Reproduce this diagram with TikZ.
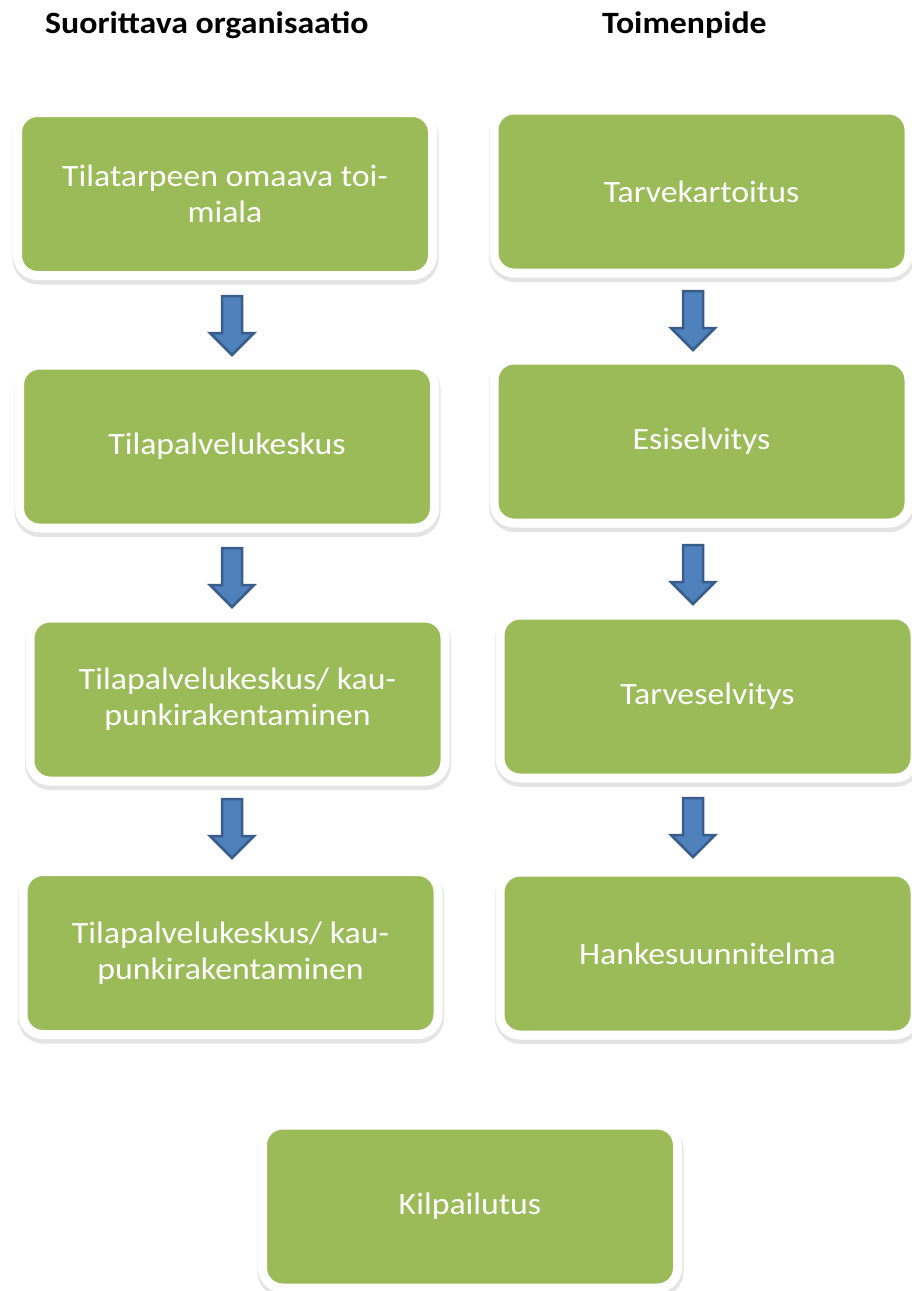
\documentclass[tikz,border=0pt]{standalone}
\usepackage{fontspec}
\setmainfont[FakeStretch=1.09]{Carlito}
\definecolor{boxgreen}{HTML}{9BBB59}
\definecolor{arrowblue}{HTML}{4F81BD}
\definecolor{arrowedge}{HTML}{385D8A}
\begin{document}
\begin{tikzpicture}[x=1pt,y=-1pt,
  greenbox/.style={fill=boxgreen, draw=white, line width=9pt, rounded corners=20pt,
    minimum width=415pt, minimum height=163pt, inner sep=0pt, text=white,
    font=\fontsize{31}{36}\selectfont, align=center,
    preaction={draw=black!30, fill=black!30, line width=11pt, opacity=0.35,
      transform canvas={xshift=0.5pt,yshift=-3.5pt}}},
  header/.style={font=\bfseries\fontsize{31}{36}\selectfont, text=black, inner sep=0pt},
  arrowstyle/.style={fill=arrowblue, draw=arrowedge, line width=2.5pt, line join=miter},
  blockarrow/.pic={\draw[arrowstyle] (-10,0) -- (10,0) -- (10,37) -- (22,37) -- (0,59) -- (-22,37) -- (-10,37) -- cycle;}
]
\useasboundingbox[fill=white] (0,0) rectangle (912,1291);

\node[header, anchor=base west] (h1) at (45,33) {Suorittava organisaatio};
\node[header, anchor=base west] (h2) at (602,33) {Toimenpide};

\node[greenbox] (L1) at (225,194) {Tilatarpeen omaava toi-\\miala};
\node[greenbox] (L2) at (227,446.5) {Tilapalvelukeskus};
\node[greenbox] (L3) at (237.5,699.5) {Tilapalvelukeskus/ kau-\\punkirakentaminen};
\node[greenbox] (L4) at (230.5,953) {Tilapalvelukeskus/ kau-\\punkirakentaminen};

\node[greenbox] (R1) at (701.5,191.5) {Tarvekartoitus};
\node[greenbox] (R2) at (701.5,441.5) {Esiselvitys};
\node[greenbox] (R3) at (707.5,696.5) {Tarveselvitys};
\node[greenbox] (R4) at (707.5,953.5) {Hankesuunnitelma};

\node[greenbox] (K) at (470,1206.5) {Kilpailutus};

\coordinate (a1) at (232,296);
\coordinate (a2) at (232,548);
\coordinate (a3) at (232,799);
\coordinate (b1) at (693,291);
\coordinate (b2) at (693,545);
\coordinate (b3) at (693,798);
\foreach \c in {a1,a2,a3,b1,b2,b3} { \pic at (\c) {blockarrow}; }
\end{tikzpicture}
\end{document}
